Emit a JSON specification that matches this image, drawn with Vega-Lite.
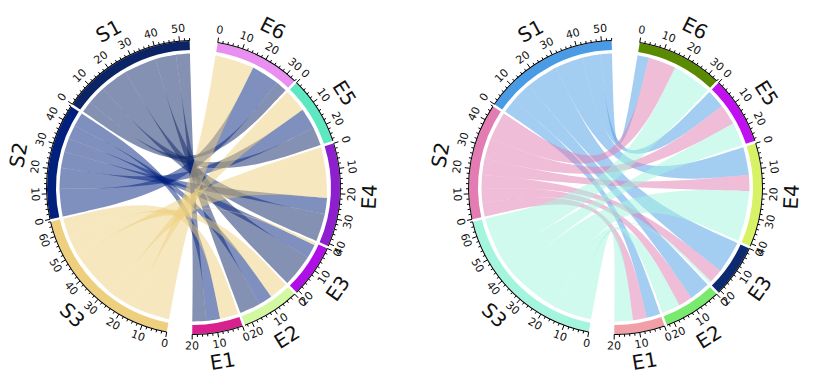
{
  "$schema": "https://vega.github.io/schema/vega-lite/v6.json",
  "padding": 0,
  "spacing": 35,
  "bounds": "flush",
  "config": {"view": {"stroke": null}, "text": {"font": "DejaVu Sans"}},
  "datasets": {
    "links": [
      {"s": "S1", "t": "E1", "v": 6}, {"s": "S1", "t": "E2", "v": 9}, {"s": "S1", "t": "E3", "v": 14},
      {"s": "S1", "t": "E4", "v": 12}, {"s": "S1", "t": "E5", "v": 8}, {"s": "S1", "t": "E6", "v": 5},
      {"s": "S2", "t": "E1", "v": 6}, {"s": "S2", "t": "E2", "v": 6}, {"s": "S2", "t": "E3", "v": 6},
      {"s": "S2", "t": "E4", "v": 7}, {"s": "S2", "t": "E5", "v": 9}, {"s": "S2", "t": "E6", "v": 12},
      {"s": "S3", "t": "E1", "v": 8}, {"s": "S3", "t": "E2", "v": 8}, {"s": "S3", "t": "E3", "v": 1},
      {"s": "S3", "t": "E4", "v": 22}, {"s": "S3", "t": "E5", "v": 10}, {"s": "S3", "t": "E6", "v": 17}
    ]
  },
  "resolve": {"scale": {"fill": "independent", "theta": "independent"}},
  "hconcat": [
    {
      "width": 387, "height": 375,
      "data": {"name": "links"},
      "layer": [
        {
          "transform": [
            {"calculate": "3 - toNumber(substring(datum.s, 1))", "as": "sk"},
            {"calculate": "6 - toNumber(substring(datum.t, 1))", "as": "tk"},
            {"joinaggregate": [{"op": "sum", "field": "v", "as": "total"}]},
            {"window": [{"op": "sum", "field": "v", "as": "cumS"}], "sort": [{"field": "sk", "order": "ascending"}, {"field": "tk", "order": "ascending"}]},
            {"window": [{"op": "sum", "field": "v", "as": "cumT"}], "sort": [{"field": "tk", "order": "ascending"}, {"field": "sk", "order": "ascending"}]},
            {"calculate": "9.5 + datum.total + 15 + datum.sk + datum.cumS", "as": "a1"},
            {"calculate": "datum.a1 - datum.v", "as": "a0"},
            {"calculate": "9.5 + datum.tk + datum.cumT", "as": "b1"},
            {"calculate": "datum.b1 - datum.v", "as": "b0"},
            {"calculate": "datum.s + '-' + datum.t", "as": "id"},
            {"calculate": "[datum.a0, datum.a0, datum.a0, (datum.a0 + datum.a1) / 2, datum.a1, datum.a1, datum.a1, -1, datum.b0, datum.b0, datum.b0, (datum.b0 + datum.b1) / 2, datum.b1, datum.b1, datum.b1, -1, datum.a0, datum.a0, datum.a0]", "as": "pa"},
            {"calculate": "[0,1,2,3,4,5,6,7,8,9,10,11,12,13,14,15,16,17,18]", "as": "seq"},
            {"flatten": ["pa", "seq"]},
            {"calculate": "datum.pa < 0 ? 0 : 134 * sin(datum.pa * PI / 180)", "as": "px"},
            {"calculate": "datum.pa < 0 ? 0 : 134 * cos(datum.pa * PI / 180)", "as": "py"}
          ],
          "mark": {"type": "line", "interpolate": "basis", "fillOpacity": 0.5, "strokeWidth": 0},
          "encoding": {
            "x": {"field": "px", "type": "quantitative", "scale": {"domain": [-193.5, 193.5], "nice": false, "zero": false}, "axis": null},
            "y": {"field": "py", "type": "quantitative", "scale": {"domain": [-187.5, 187.5], "nice": false, "zero": false}, "axis": null},
            "order": {"field": "seq", "type": "quantitative"},
            "detail": {"field": "id", "type": "nominal"},
            "fill": {"field": "s", "type": "nominal", "legend": null,
              "scale": {"domain": ["S1", "S2", "S3", "E1", "E2", "E3", "E4", "E5", "E6"],
                        "range": ["#0b2466", "#00207d", "#edcf7d", "#d8208f", "#d2f8a2", "#b00ee6", "#8e1fcf", "#5ee8c2", "#ea8ff2"]}}
          }
        },
        {
          "transform": [
            {"fold": ["s", "t"], "as": ["side", "name"]},
            {"aggregate": [{"op": "sum", "field": "v", "as": "size"}], "groupby": ["name"]},
            {"calculate": "substring(datum.name, 0, 1) == 'E' ? 6 - toNumber(substring(datum.name, 1)) : 9 - toNumber(substring(datum.name, 1))", "as": "k"},
            {"calculate": "datum.k == 0 ? 0 : (datum.k == 6 ? 10 : 1)", "as": "gap"},
            {"calculate": "datum.size + datum.gap", "as": "span"},
            {"window": [{"op": "sum", "field": "span", "as": "cum"}], "sort": [{"field": "k", "order": "ascending"}]},
            {"calculate": "9.5 + datum.cum - datum.size", "as": "start"},
            {"calculate": "datum.start + datum.size", "as": "end"}
          ],
          "layer": [
            {
              "mark": {"type": "arc", "radius": 146.5, "radius2": 137.5},
              "encoding": {
                "theta": {"field": "start", "type": "quantitative", "scale": {"domain": [0, 360], "range": [0, 6.283185307], "nice": false}},
                "theta2": {"field": "end"},
                "fill": {"field": "name", "type": "nominal", "legend": null,
                  "scale": {"domain": ["S1", "S2", "S3", "E1", "E2", "E3", "E4", "E5", "E6"],
                            "range": ["#0b2466", "#00207d", "#edcf7d", "#d8208f", "#d2f8a2", "#b00ee6", "#8e1fcf", "#5ee8c2", "#ea8ff2"]}}
              }
            },
            {
              "mark": {"type": "arc", "radius": 147.5, "radius2": 146.5, "fill": "black"},
              "encoding": {
                "theta": {"field": "start", "type": "quantitative", "scale": {"domain": [0, 360], "range": [0, 6.283185307], "nice": false}},
                "theta2": {"field": "end"}
              }
            },
            {
              "transform": [
                {"calculate": "[0,2,4,6,8,10,12,14,16,18,20,22,24,26,28,30,32,34,36,38,40,42,44,46,48,50,52,54,56,58,60,62,64,66,68,70]", "as": "tv"},
                {"flatten": ["tv"]},
                {"filter": "datum.tv <= datum.size + 0.001"},
                {"calculate": "(datum.start + datum.tv) * PI / 180", "as": "rad"},
                {"calculate": "datum.tv % 10 == 0 ? 152 : 149.5", "as": "r2"},
                {"calculate": "147 * sin(datum.rad)", "as": "tx1"},
                {"calculate": "147 * cos(datum.rad)", "as": "ty1"},
                {"calculate": "datum.r2 * sin(datum.rad)", "as": "tx2"},
                {"calculate": "datum.r2 * cos(datum.rad)", "as": "ty2"}
              ],
              "mark": {"type": "rule", "color": "black", "strokeWidth": 1},
              "encoding": {
                "x": {"field": "tx1", "type": "quantitative", "scale": {"domain": [-193.5, 193.5], "nice": false, "zero": false}, "axis": null},
                "y": {"field": "ty1", "type": "quantitative", "scale": {"domain": [-187.5, 187.5], "nice": false, "zero": false}, "axis": null},
                "x2": {"field": "tx2"},
                "y2": {"field": "ty2"}
              }
            },
            {
              "transform": [
                {"calculate": "[0,10,20,30,40,50,60,70]", "as": "tv"},
                {"flatten": ["tv"]},
                {"filter": "datum.tv <= datum.size + 0.001"},
                {"calculate": "datum.start + datum.tv", "as": "ang"},
                {"calculate": "datum.ang < 90 ? datum.ang : (datum.ang < 270 ? datum.ang - 180 : datum.ang - 360)", "as": "rot"}
              ],
              "mark": {"type": "text", "radius": 159, "fontSize": 11, "color": "#111111"},
              "encoding": {
                "theta": {"field": "ang", "type": "quantitative", "stack": null, "scale": {"domain": [0, 360], "range": [0, 6.283185307], "nice": false}},
                "text": {"field": "tv", "type": "quantitative", "format": "d"},
                "angle": {"field": "rot", "type": "quantitative", "scale": null}
              }
            },
            {
              "transform": [
                {"calculate": "(datum.start + datum.end) / 2", "as": "ang"},
                {"calculate": "datum.ang < 90 ? datum.ang : (datum.ang < 270 ? datum.ang - 180 : datum.ang - 360)", "as": "rot"}
              ],
              "mark": {"type": "text", "radius": 177, "fontSize": 20, "color": "#111111"},
              "encoding": {
                "theta": {"field": "ang", "type": "quantitative", "stack": null, "scale": {"domain": [0, 360], "range": [0, 6.283185307], "nice": false}},
                "text": {"field": "name", "type": "nominal"},
                "angle": {"field": "rot", "type": "quantitative", "scale": null}
              }
            }
          ]
        }
      ]
    },
    {
      "width": 387, "height": 375,
      "data": {"name": "links"},
      "layer": [
        {
          "transform": [
            {"calculate": "3 - toNumber(substring(datum.s, 1))", "as": "sk"},
            {"calculate": "6 - toNumber(substring(datum.t, 1))", "as": "tk"},
            {"joinaggregate": [{"op": "sum", "field": "v", "as": "total"}]},
            {"window": [{"op": "sum", "field": "v", "as": "cumS"}], "sort": [{"field": "sk", "order": "ascending"}, {"field": "tk", "order": "descending"}]},
            {"window": [{"op": "sum", "field": "v", "as": "cumT"}], "sort": [{"field": "tk", "order": "ascending"}, {"field": "sk", "order": "descending"}]},
            {"calculate": "9.5 + datum.total + 15 + datum.sk + datum.cumS", "as": "a1"},
            {"calculate": "datum.a1 - datum.v", "as": "a0"},
            {"calculate": "9.5 + datum.tk + datum.cumT", "as": "b1"},
            {"calculate": "datum.b1 - datum.v", "as": "b0"},
            {"calculate": "datum.s + '-' + datum.t", "as": "id"},
            {"calculate": "[datum.a0, datum.a0, datum.a0, (datum.a0 + datum.a1) / 2, datum.a1, datum.a1, datum.a1, -1, datum.b0, datum.b0, datum.b0, (datum.b0 + datum.b1) / 2, datum.b1, datum.b1, datum.b1, -1, datum.a0, datum.a0, datum.a0]", "as": "pa"},
            {"calculate": "[0,1,2,3,4,5,6,7,8,9,10,11,12,13,14,15,16,17,18]", "as": "seq"},
            {"flatten": ["pa", "seq"]},
            {"calculate": "datum.pa < 0 ? 0 : 134 * sin(datum.pa * PI / 180)", "as": "px"},
            {"calculate": "datum.pa < 0 ? 0 : 134 * cos(datum.pa * PI / 180)", "as": "py"}
          ],
          "mark": {"type": "line", "interpolate": "basis", "fillOpacity": 0.5, "strokeWidth": 0},
          "encoding": {
            "x": {"field": "px", "type": "quantitative", "scale": {"domain": [-193.5, 193.5], "nice": false, "zero": false}, "axis": null},
            "y": {"field": "py", "type": "quantitative", "scale": {"domain": [-187.5, 187.5], "nice": false, "zero": false}, "axis": null},
            "order": {"field": "seq", "type": "quantitative"},
            "detail": {"field": "id", "type": "nominal"},
            "fill": {"field": "s", "type": "nominal", "legend": null,
              "scale": {"domain": ["S1", "S2", "S3", "E1", "E2", "E3", "E4", "E5", "E6"],
                        "range": ["#4a9be6", "#e27cb2", "#a4f5de", "#f2a0a8", "#78ea6e", "#0c2a70", "#d8f266", "#c010f0", "#5a8a00"]}}
          }
        },
        {
          "transform": [
            {"fold": ["s", "t"], "as": ["side", "name"]},
            {"aggregate": [{"op": "sum", "field": "v", "as": "size"}], "groupby": ["name"]},
            {"calculate": "substring(datum.name, 0, 1) == 'E' ? 6 - toNumber(substring(datum.name, 1)) : 9 - toNumber(substring(datum.name, 1))", "as": "k"},
            {"calculate": "datum.k == 0 ? 0 : (datum.k == 6 ? 10 : 1)", "as": "gap"},
            {"calculate": "datum.size + datum.gap", "as": "span"},
            {"window": [{"op": "sum", "field": "span", "as": "cum"}], "sort": [{"field": "k", "order": "ascending"}]},
            {"calculate": "9.5 + datum.cum - datum.size", "as": "start"},
            {"calculate": "datum.start + datum.size", "as": "end"}
          ],
          "layer": [
            {
              "mark": {"type": "arc", "radius": 146.5, "radius2": 137.5},
              "encoding": {
                "theta": {"field": "start", "type": "quantitative", "scale": {"domain": [0, 360], "range": [0, 6.283185307], "nice": false}},
                "theta2": {"field": "end"},
                "fill": {"field": "name", "type": "nominal", "legend": null,
                  "scale": {"domain": ["S1", "S2", "S3", "E1", "E2", "E3", "E4", "E5", "E6"],
                            "range": ["#4a9be6", "#e27cb2", "#a4f5de", "#f2a0a8", "#78ea6e", "#0c2a70", "#d8f266", "#c010f0", "#5a8a00"]}}
              }
            },
            {
              "mark": {"type": "arc", "radius": 147.5, "radius2": 146.5, "fill": "black"},
              "encoding": {
                "theta": {"field": "start", "type": "quantitative", "scale": {"domain": [0, 360], "range": [0, 6.283185307], "nice": false}},
                "theta2": {"field": "end"}
              }
            },
            {
              "transform": [
                {"calculate": "[0,2,4,6,8,10,12,14,16,18,20,22,24,26,28,30,32,34,36,38,40,42,44,46,48,50,52,54,56,58,60,62,64,66,68,70]", "as": "tv"},
                {"flatten": ["tv"]},
                {"filter": "datum.tv <= datum.size + 0.001"},
                {"calculate": "(datum.start + datum.tv) * PI / 180", "as": "rad"},
                {"calculate": "datum.tv % 10 == 0 ? 152 : 149.5", "as": "r2"},
                {"calculate": "147 * sin(datum.rad)", "as": "tx1"},
                {"calculate": "147 * cos(datum.rad)", "as": "ty1"},
                {"calculate": "datum.r2 * sin(datum.rad)", "as": "tx2"},
                {"calculate": "datum.r2 * cos(datum.rad)", "as": "ty2"}
              ],
              "mark": {"type": "rule", "color": "black", "strokeWidth": 1},
              "encoding": {
                "x": {"field": "tx1", "type": "quantitative", "scale": {"domain": [-193.5, 193.5], "nice": false, "zero": false}, "axis": null},
                "y": {"field": "ty1", "type": "quantitative", "scale": {"domain": [-187.5, 187.5], "nice": false, "zero": false}, "axis": null},
                "x2": {"field": "tx2"},
                "y2": {"field": "ty2"}
              }
            },
            {
              "transform": [
                {"calculate": "[0,10,20,30,40,50,60,70]", "as": "tv"},
                {"flatten": ["tv"]},
                {"filter": "datum.tv <= datum.size + 0.001"},
                {"calculate": "datum.start + datum.tv", "as": "ang"},
                {"calculate": "datum.ang < 90 ? datum.ang : (datum.ang < 270 ? datum.ang - 180 : datum.ang - 360)", "as": "rot"}
              ],
              "mark": {"type": "text", "radius": 159, "fontSize": 11, "color": "#111111"},
              "encoding": {
                "theta": {"field": "ang", "type": "quantitative", "stack": null, "scale": {"domain": [0, 360], "range": [0, 6.283185307], "nice": false}},
                "text": {"field": "tv", "type": "quantitative", "format": "d"},
                "angle": {"field": "rot", "type": "quantitative", "scale": null}
              }
            },
            {
              "transform": [
                {"calculate": "(datum.start + datum.end) / 2", "as": "ang"},
                {"calculate": "datum.ang < 90 ? datum.ang : (datum.ang < 270 ? datum.ang - 180 : datum.ang - 360)", "as": "rot"}
              ],
              "mark": {"type": "text", "radius": 177, "fontSize": 20, "color": "#111111"},
              "encoding": {
                "theta": {"field": "ang", "type": "quantitative", "stack": null, "scale": {"domain": [0, 360], "range": [0, 6.283185307], "nice": false}},
                "text": {"field": "name", "type": "nominal"},
                "angle": {"field": "rot", "type": "quantitative", "scale": null}
              }
            }
          ]
        }
      ]
    }
  ]
}
